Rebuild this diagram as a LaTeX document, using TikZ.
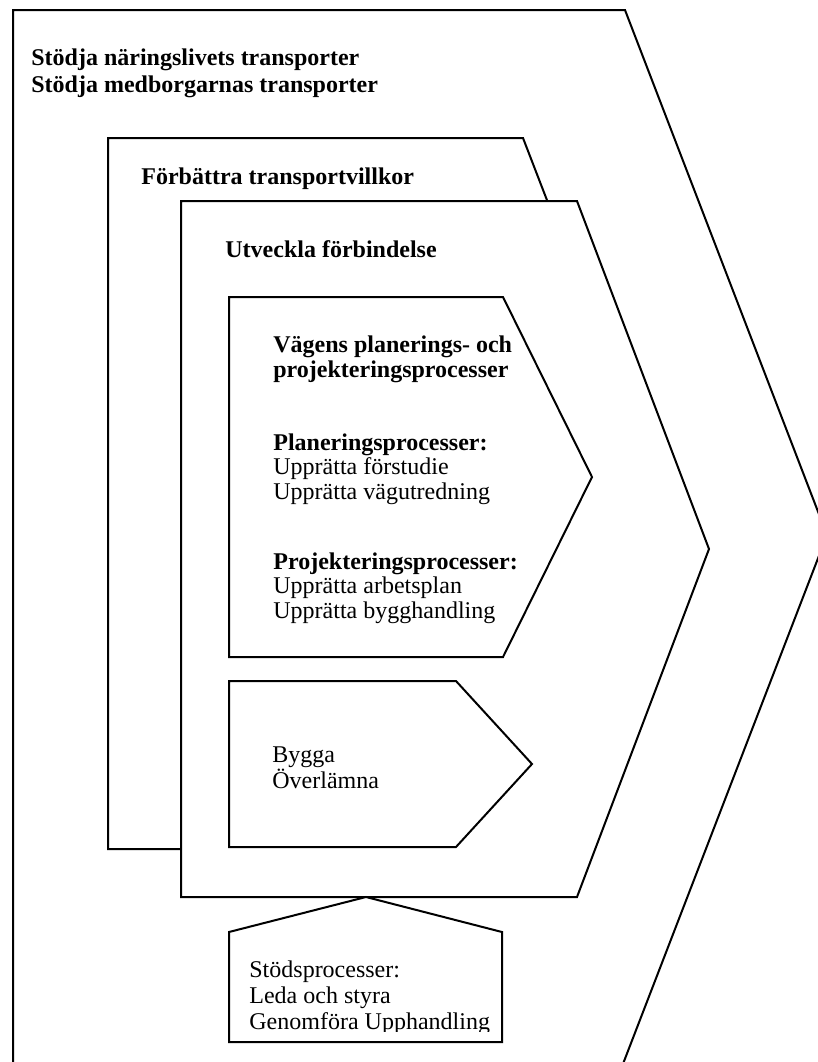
\documentclass[tikz,border=0pt]{standalone}
\usepackage{fontspec}
\setmainfont{Liberation Serif}
\begin{document}
\begin{tikzpicture}[
  x=0.5pt, y=-0.5pt,
  frame/.style={draw, fill=white, line width=1pt, line join=miter},
  goal/.style={font=\fontsize{12}{13.5}\selectfont\bfseries, anchor=base west, align=left, inner sep=0pt},
  proc/.style={font=\fontsize{12}{12.25}\selectfont, anchor=base west, align=left, inner sep=0pt},
  step text/.style={font=\fontsize{12}{13}\selectfont, anchor=base west, align=left, inner sep=0pt}
  ]
\useasboundingbox (0,0) rectangle (818,1062);
\clip (0,0) rectangle (818,1062);
\draw[frame] (13,1095) -- (13,10) -- (625,10) -- (827,535) -- (611,1095) -- cycle;
\node[goal] (transporter) at (31,92)
    {Stödja näringslivets transporter\\Stödja medborgarnas transporter};
\draw[frame] (108,138) -- (523,138) -- (660,493) -- (523,849) -- (108,849) -- cycle;
\node[goal] (villkor) at (141,184) {Förbättra transportvillkor};
\draw[frame] (181,201) -- (577,201) -- (709,549) -- (577,897) -- (181,897) -- cycle;
\node[goal] (forbindelse) at (225,257) {Utveckla förbindelse};
\draw[frame] (229,297) -- (503,297) -- (592,477) -- (503,657) -- (229,657) -- cycle;
\node[proc, font=\fontsize{12}{12.25}\selectfont\bfseries] (vagens) at (273,377)
    {Vägens planerings- och\\projekteringsprocesser};
\node[proc] (planering) at (273,499)
    {\textbf{Planeringsprocesser:}\\Upprätta förstudie\\Upprätta vägutredning};
\node[proc] (projektering) at (273,618)
    {\textbf{Projekteringsprocesser:}\\Upprätta arbetsplan\\Upprätta bygghandling};
\draw[frame] (229,681) -- (456,681) -- (532,764) -- (456,847) -- (229,847) -- cycle;
\node[step text] (bygga) at (272,788) {Bygga\\Överlämna};
\draw[frame] (366,897) -- (502,932) -- (502,1042) -- (229,1042) -- (229,932) -- cycle;
\begin{scope}
    \clip (229,932) rectangle (502,1031);
    \node[step text] (stod) at (249,1029)
        {Stödsprocesser:\\Leda och styra\\Genomföra Upphandling};
\end{scope}
\end{tikzpicture}
\end{document}
